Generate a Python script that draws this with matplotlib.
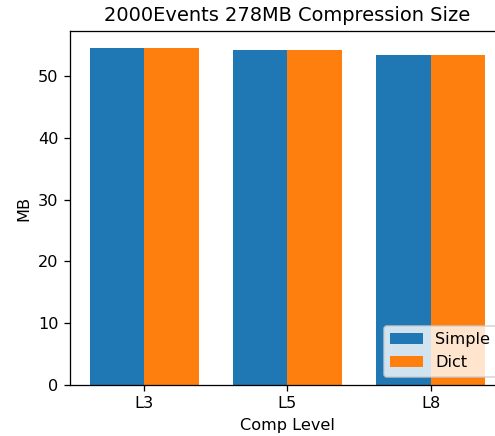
import numpy as np
import matplotlib.pyplot as plt

levels = ["L3", "L5", "L8"]
simple_mb = [54.6, 54.2, 53.5]
dict_mb = [54.5, 54.2, 53.5]

x = np.arange(len(levels))
width = 0.38

dpi = 116
fig = plt.figure(figsize=(496 / dpi, 436 / dpi), dpi=dpi)
# axes run a bit past the right edge, as in the original (cropped) figure
ax = fig.add_axes([0.141, 0.117, 0.877, 0.812])
ax.bar(x - width / 2, simple_mb, width, label="Simple")
ax.bar(x + width / 2, dict_mb, width, label="Dict")

ax.set_xticks(x)
ax.set_xticklabels(levels)
ax.set_xlabel("Comp Level")
ax.set_ylabel("MB")
ax.set_title("2000Events 278MB Compression Size")
ax.legend(loc="lower right")

fig.savefig("out.png", dpi=dpi)
